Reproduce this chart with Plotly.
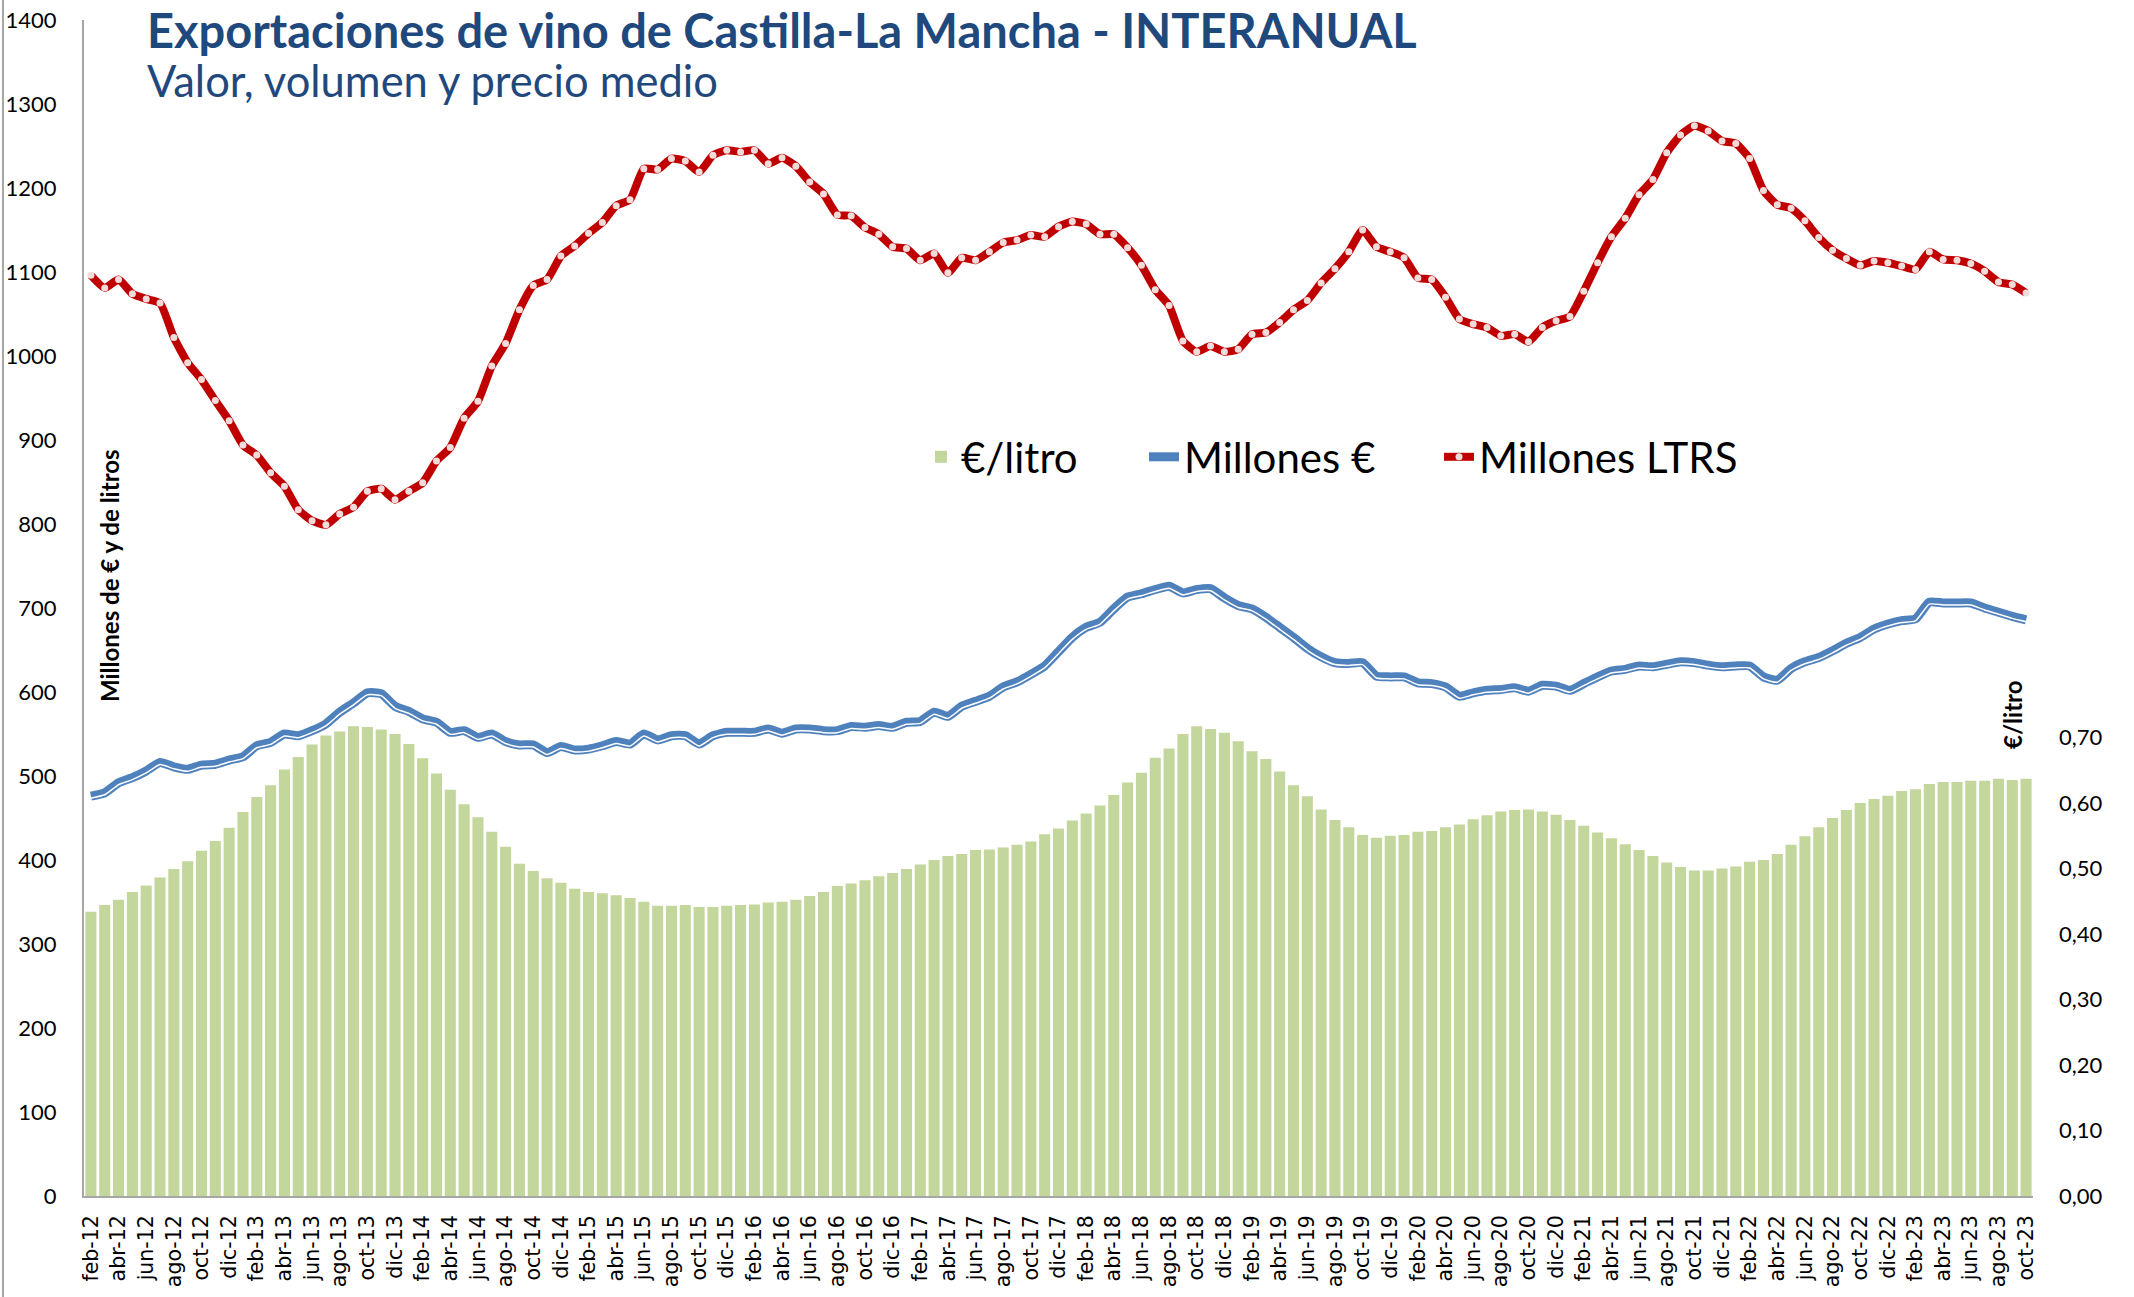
import plotly.graph_objects as go

# ---- data ----
month_abbr = ["ene", "feb", "mar", "abr", "may", "jun", "jul", "ago", "sep", "oct", "nov", "dic"]
categories = []
for yr in range(12, 24):
    for m, ab in enumerate(month_abbr):
        if (yr == 12 and m < 1) or (yr == 23 and m > 9):
            continue
        categories.append(f"{ab}-{yr:02d}")

millones_ltrs = [
    1096, 1081, 1091, 1074, 1068, 1063, 1022, 992, 972, 947, 923, 894, 882, 861, 845, 817, 804, 799, 812, 820,
    839, 842, 829, 839, 849, 875, 891, 926, 946, 988, 1015, 1055, 1084, 1091, 1119, 1131, 1146, 1159, 1179, 1186,
    1223, 1222, 1235, 1232, 1219, 1239, 1245, 1243, 1245, 1229, 1236, 1226, 1207, 1193, 1168, 1167, 1153, 1145, 1130, 1128,
    1114, 1122, 1099, 1117, 1114, 1124, 1135, 1138, 1144, 1142, 1154, 1160, 1157, 1145, 1145, 1129, 1108, 1079, 1060, 1018,
    1005, 1012, 1005, 1008, 1026, 1028, 1040, 1055, 1066, 1087, 1104, 1124, 1150, 1130, 1124, 1117, 1093, 1091, 1070, 1044,
    1038, 1034, 1024, 1026, 1017, 1034, 1042, 1047, 1077, 1111, 1142, 1164, 1192, 1210, 1242, 1263, 1274, 1268, 1256, 1253,
    1235, 1197, 1180, 1176, 1161, 1141, 1126, 1116, 1108, 1113, 1111, 1107, 1103, 1124, 1115, 1114, 1110, 1101, 1088, 1085,
    1075,
]

millones_eur = [
    476, 480, 492, 498, 506, 516, 511, 508, 513, 514, 519, 523, 536, 540, 550, 548, 554, 562, 576, 587,
    599, 598, 583, 577, 568, 564, 552, 554, 546, 550, 541, 537, 537, 528, 535, 531, 532, 536, 541, 538,
    550, 543, 548, 548, 538, 548, 552, 552, 552, 556, 551, 556, 556, 554, 554, 559, 558, 560, 558, 564,
    565, 576, 571, 583, 589, 595, 606, 612, 621, 631, 648, 665, 677, 683, 699, 713, 717, 722, 726, 718,
    722, 723, 712, 703, 699, 689, 677, 665, 652, 642, 635, 634, 635, 619, 618, 618, 611, 610, 606, 595,
    599, 602, 603, 605, 601, 608, 607, 602, 610, 618, 625, 627, 631, 630, 633, 636, 635, 632, 630, 631,
    631, 618, 614, 628, 636, 641, 649, 658, 665, 675, 681, 685, 687, 707, 706, 706, 706, 700, 695, 690,
    686,
]

eur_litro = [
    0.434, 0.444, 0.452, 0.464, 0.474, 0.486, 0.499, 0.511, 0.527, 0.542, 0.562, 0.586, 0.609, 0.627, 0.651, 0.670,
    0.689, 0.703, 0.709, 0.717, 0.716, 0.712, 0.705, 0.690, 0.668, 0.645, 0.620, 0.598, 0.578, 0.556, 0.533, 0.507,
    0.496, 0.485, 0.478, 0.469, 0.464, 0.462, 0.459, 0.455, 0.449, 0.443, 0.443, 0.444, 0.441, 0.441, 0.443, 0.444,
    0.445, 0.448, 0.449, 0.452, 0.458, 0.464, 0.473, 0.477, 0.482, 0.488, 0.493, 0.499, 0.506, 0.513, 0.519, 0.522,
    0.528, 0.529, 0.532, 0.536, 0.541, 0.552, 0.561, 0.573, 0.584, 0.596, 0.612, 0.631, 0.646, 0.669, 0.683, 0.705,
    0.717, 0.713, 0.707, 0.694, 0.679, 0.667, 0.648, 0.627, 0.610, 0.590, 0.574, 0.563, 0.551, 0.547, 0.550, 0.551,
    0.556, 0.557, 0.563, 0.567, 0.575, 0.581, 0.587, 0.589, 0.590, 0.587, 0.582, 0.574, 0.565, 0.555, 0.546, 0.537,
    0.528, 0.519, 0.509, 0.502, 0.497, 0.497, 0.500, 0.503, 0.510, 0.513, 0.522, 0.536, 0.549, 0.563, 0.577, 0.589,
    0.600, 0.606, 0.611, 0.618, 0.621, 0.629, 0.632, 0.632, 0.634, 0.634, 0.637, 0.635, 0.637,
]

left_ticks = list(range(0, 1401, 100))
right_ticks = [0.0, 0.1, 0.2, 0.3, 0.4, 0.5, 0.6, 0.7]
x_ticks = categories[::2]

title_text = "<b>Exportaciones de vino de Castilla-La Mancha - INTERANUAL</b>"
subtitle_text = "Valor, volumen y precio medio"

# ---- figure ----
W, H = 2134, 1297
ML, MR, MT, MB = 84, 101, 20, 101
PW = W - ML - MR
PH = H - MT - MB
Y_MAX = 1400
Y2_MAX = 1.795
WHITE_SHIFT_PX = 2.0


def px_x(px):
    return (px - ML) / PW


def px_y(py):
    return (H - MB - py) / PH


BLUE = "#4F81BD"
RED = "#C00000"
GREEN = "#C3D69B"
TITLE_BLUE = "#1F497D"
LEG_FONT = dict(size=42, family="Lato", color="black")

fig = go.Figure()

fig.add_trace(go.Bar(
    x=categories, y=eur_litro, name="€/litro", yaxis="y2", legend="legend",
    marker=dict(color=GREEN, line=dict(width=0)),
))

fig.add_trace(go.Scatter(
    x=categories, y=millones_eur, name="Millones €", mode="lines", legend="legend2",
    line=dict(color=BLUE, width=9, shape="spline", smoothing=0.5),
))
fig.add_trace(go.Scatter(
    x=categories, y=millones_eur, name="Millones € (línea interior)", mode="lines", showlegend=False,
    yaxis="y3", line=dict(color="white", width=1.5, shape="spline", smoothing=0.5), hoverinfo="skip",
))

fig.add_trace(go.Scatter(
    x=categories, y=millones_ltrs, name="Millones LTRS", mode="lines+markers", legend="legend3",
    line=dict(color=RED, width=8, shape="spline", smoothing=0.5),
    marker=dict(color="#F2DCDB", size=7, line=dict(width=0)),
))

shift = WHITE_SHIFT_PX * Y_MAX / PH

leg_common = dict(orientation="h", yanchor="middle", xanchor="left", font=LEG_FONT,
                  bgcolor="rgba(0,0,0,0)", borderwidth=0)

fig.update_layout(
    width=W, height=H,
    margin=dict(l=ML, r=MR, t=MT, b=MB, pad=0, autoexpand=False),
    paper_bgcolor="white", plot_bgcolor="white",
    bargap=0.2,
    separators=",.",
    font=dict(family="Lato, 'Open Sans', sans-serif", color="black"),
    showlegend=True,
    legend=dict(x=px_x(921), y=px_y(457), **leg_common),
    legend2=dict(x=px_x(1144), y=px_y(457), **leg_common),
    legend3=dict(x=px_x(1439), y=px_y(457), **leg_common),
    xaxis=dict(
        type="category", range=[-0.5, len(categories) - 0.5], automargin=False,
        tickmode="array", tickvals=x_ticks, ticktext=x_ticks,
        tickangle=-90, tickfont=dict(family="DejaVu Sans", size=20.5, color="black"),
        showline=True, linecolor="#A6A6A6", linewidth=2, showgrid=False, zeroline=False,
        ticks="", ticklabelstandoff=9,
    ),
    yaxis=dict(
        range=[0, Y_MAX], tickmode="array", tickvals=left_ticks, automargin=False,
        tickfont=dict(family="Lato", size=22, color="black"),
        showline=True, linecolor="#A6A6A6", linewidth=2, showgrid=False, zeroline=False,
        ticks="", ticklabelstandoff=21,
    ),
    yaxis2=dict(
        overlaying="y", side="right", range=[0, Y2_MAX], tickmode="array", tickvals=right_ticks,
        tickformat=".2f", automargin=False,
        tickfont=dict(family="Lato", size=22, color="black"),
        showline=False, showgrid=False, zeroline=False, ticks="", ticklabelstandoff=25,
    ),
    yaxis3=dict(
        overlaying="y", range=[shift, Y_MAX + shift], visible=False, automargin=False,
        showgrid=False, zeroline=False,
    ),
)

fig.add_annotation(
    text=title_text, xref="paper", yref="paper", x=px_x(145), y=px_y(0),
    xanchor="left", yanchor="top", showarrow=False,
    font=dict(family="Lato", size=47, color=TITLE_BLUE),
)
fig.add_annotation(
    text=subtitle_text, xref="paper", yref="paper", x=px_x(145), y=px_y(80),
    xanchor="left", yanchor="middle", showarrow=False,
    font=dict(family="Lato", size=43.5, color=TITLE_BLUE),
)
fig.add_annotation(
    text="<b>Millones de € y de litros</b>", xref="paper", yref="paper",
    x=px_x(109), y=px_y(576), xanchor="center", yanchor="middle", textangle=-90,
    showarrow=False, font=dict(family="Lato", size=24, color="black"),
)
fig.add_annotation(
    text="<b>€/litro</b>", xref="paper", yref="paper",
    x=px_x(2012), y=px_y(715), xanchor="center", yanchor="middle", textangle=-90,
    showarrow=False, font=dict(family="Lato", size=24, color="black"),
)

fig.add_shape(
    type="line", xref="paper", yref="paper",
    x0=px_x(3), x1=px_x(3), y0=px_y(0), y1=px_y(H),
    line=dict(color="#A6A6A6", width=2),
)

fig.write_html(
    "out.html",
    config={"displayModeBar": False},
    post_script="document.body.style.margin='0';document.body.style.overflow='hidden';",
)
